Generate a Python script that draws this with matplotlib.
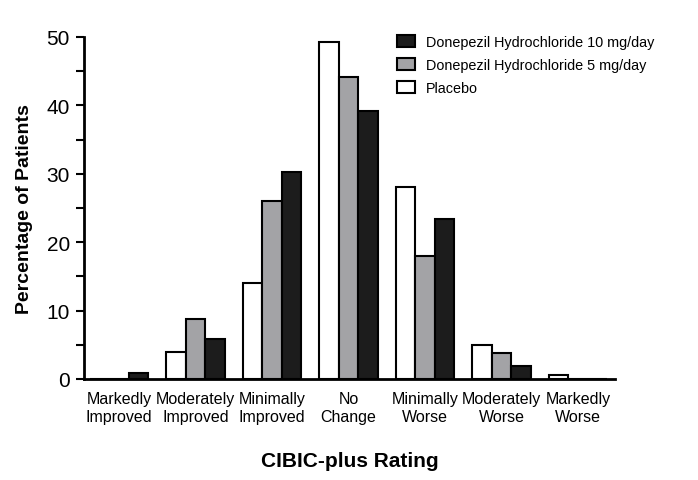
import numpy as np
import matplotlib
matplotlib.use("Agg")
import matplotlib.pyplot as plt
from matplotlib.ticker import MultipleLocator

plt.rcParams['font.family'] = ['Liberation Sans', 'DejaVu Sans']

categories = ["Markedly\nImproved", "Moderately\nImproved", "Minimally\nImproved", "No\nChange",
              "Minimally\nWorse", "Moderately\nWorse", "Markedly\nWorse"]
placebo = [0, 4, 14, 49.3, 28, 5, 0.6]
dose5 = [0, 8.8, 26, 44.2, 18, 3.8, 0]
dose10 = [0.9, 5.9, 30.2, 39.2, 23.4, 1.9, 0]

fig = plt.figure(figsize=(6.98, 4.81), dpi=100)
ax = fig.add_axes([0.120, 0.210, 0.761, 0.711])

x = np.arange(len(categories))
w = 0.255
ax.bar(x - w, placebo, w, color='white', edgecolor='black', linewidth=1.5, label='Placebo')
ax.bar(x, dose5, w, color='#a3a3a6', edgecolor='black', linewidth=1.5, label='Donepezil Hydrochloride 5 mg/day')
ax.bar(x + w, dose10, w, color='#1c1c1c', edgecolor='black', linewidth=1.5, label='Donepezil Hydrochloride 10 mg/day')

ax.set_xlim(-0.46, 6.48)
ax.set_ylim(0, 50)
ax.yaxis.set_major_locator(MultipleLocator(10))
ax.yaxis.set_minor_locator(MultipleLocator(5))
ax.tick_params(axis='y', which='both', direction='out', length=6, width=1.5, labelsize=15, pad=4)
ax.set_xticks(x)
ax.set_xticklabels(categories, fontsize=11.5, linespacing=1.25)
ax.tick_params(axis='x', length=0, pad=9)

for s in ['top', 'right']:
    ax.spines[s].set_visible(False)
ax.spines['left'].set_linewidth(2)
ax.spines['bottom'].set_linewidth(2)

ax.set_ylabel('Percentage of Patients', fontsize=14, fontweight='bold', labelpad=10)
ax.set_xlabel('CIBIC-plus Rating', fontsize=15, fontweight='bold', labelpad=19)

h, l = ax.get_legend_handles_labels()
ax.legend(h[::-1], l[::-1], loc='upper left', bbox_to_anchor=(0.560, 0.937),
          bbox_transform=fig.transFigure, borderaxespad=0, frameon=False,
          fontsize=10.4, handlelength=1.25, handleheight=0.85, handletextpad=0.8,
          labelspacing=0.62)

fig.savefig('out.png', dpi=100)
